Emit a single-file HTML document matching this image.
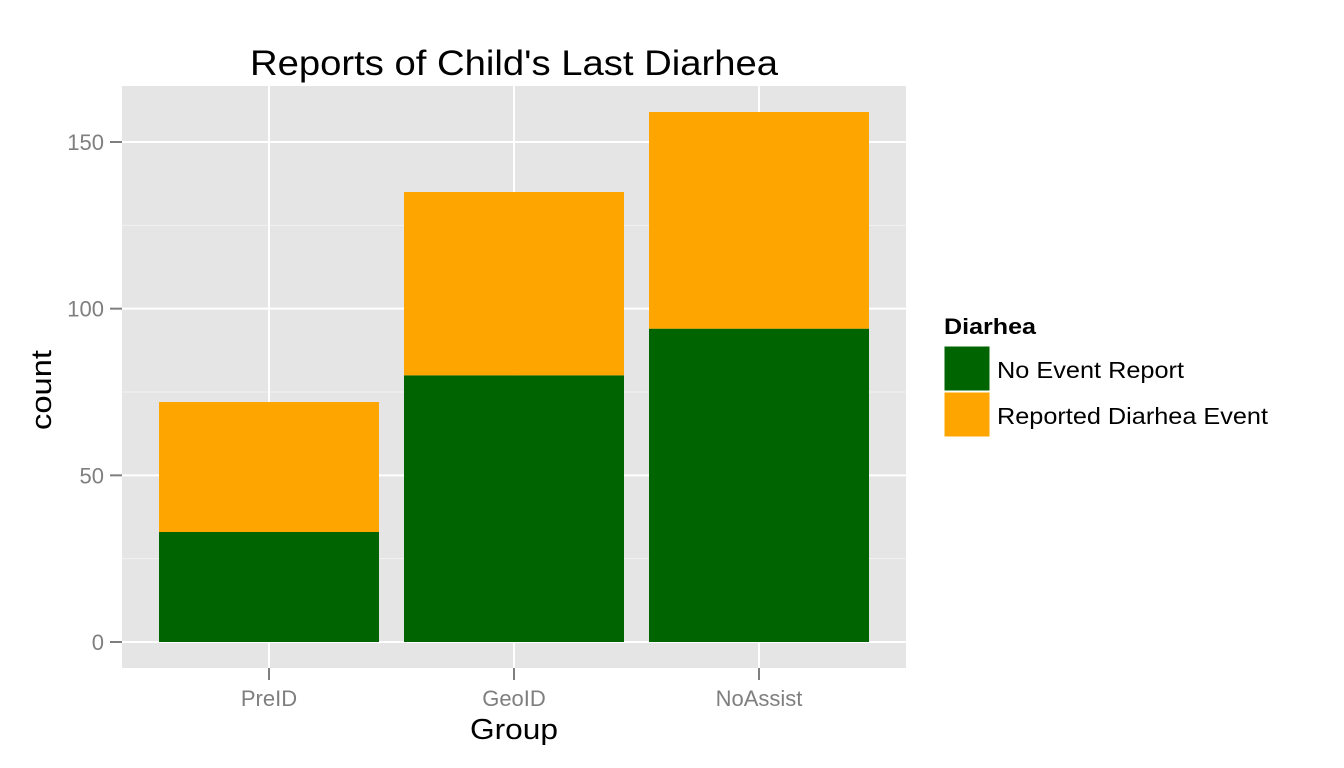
<!DOCTYPE html>
<html><head><meta charset="utf-8"><style>body{margin:0;background:#fff}svg{display:block;font-family:"Liberation Sans",Arial,sans-serif}</style></head>
<body>
<svg id="chart" width="1344" height="768" viewBox="0 0 1344 768">
<rect x="0" y="0" width="1344" height="768" fill="#fff"/>
<rect x="122" y="86" width="784" height="582" fill="#e5e5e5"/>
<g id="grid"></g><g id="bars"></g><g id="axes"></g>
<text x="514" y="75" font-size="35" text-anchor="middle" fill="#000" textLength="528" lengthAdjust="spacingAndGlyphs">Reports of Child's Last Diarhea</text>
<text x="514" y="739" font-size="29" text-anchor="middle" fill="#000" textLength="88" lengthAdjust="spacingAndGlyphs">Group</text>
<text transform="translate(51,390) rotate(-90)" font-size="29" text-anchor="middle" fill="#000" textLength="80" lengthAdjust="spacingAndGlyphs">count</text>
<g>
<text x="944" y="334" font-size="22" font-weight="bold" textLength="92" lengthAdjust="spacingAndGlyphs">Diarhea</text>
<rect x="944" y="346" width="46" height="45" fill="#006400" stroke="#fff" stroke-width="1"/>
<text x="997" y="378" font-size="23" textLength="187" lengthAdjust="spacingAndGlyphs">No Event Report</text>
<rect x="944" y="392" width="46" height="45" fill="#ffa500" stroke="#fff" stroke-width="1"/>
<text x="997" y="424" font-size="23" textLength="271" lengthAdjust="spacingAndGlyphs">Reported Diarhea Event</text>
</g>
</svg>
<script>
const categories=["PreID","GeoID","NoAssist"];
const noEvent=[33,80,94];
const reported=[39,55,65];
const yTicks=[0,50,100,150];
const yMinor=[25,75,125];
const NS="http://www.w3.org/2000/svg";
const y=v=>642-v*(500/150);
const x=i=>269+i*245;
const bw=220;
function mk(tag,attrs,parent){const e=document.createElementNS(NS,tag);for(const k in attrs)e.setAttribute(k,attrs[k]);parent.appendChild(e);return e;}
const grid=document.getElementById('grid'),bars=document.getElementById('bars'),axes=document.getElementById('axes');
yMinor.forEach(v=>{const l=mk('line',{x1:122,x2:906,y1:y(v),y2:y(v),stroke:'#f2f2f2','stroke-width':1},grid);

});
yTicks.forEach(v=>{const l=mk('line',{x1:122,x2:906,y1:y(v),y2:y(v),stroke:'#fff','stroke-width':2},grid);


const t=mk('line',{x1:110,x2:122,y1:y(v),y2:y(v),stroke:'#7f7f7f','stroke-width':2},axes);


const tx=mk('text',{x:104,y:y(v)+8,'font-size':22,'text-anchor':'end',fill:'#7f7f7f'},axes);tx.textContent=v;

});
categories.forEach((c,i)=>{const l=mk('line',{x1:x(i),x2:x(i),y1:86,y2:668,stroke:'#fff','stroke-width':2},grid);


const g=mk('rect',{x:x(i)-bw/2,y:y(noEvent[i]),width:bw,height:y(0)-y(noEvent[i]),fill:'#006400'},bars);


const o=mk('rect',{x:x(i)-bw/2,y:y(noEvent[i]+reported[i]),width:bw,height:y(noEvent[i])-y(noEvent[i]+reported[i]),fill:'#ffa500'},bars);


const t=mk('line',{x1:x(i),x2:x(i),y1:668,y2:680,stroke:'#7f7f7f','stroke-width':2},axes);


const tx=mk('text',{x:x(i),y:706,'font-size':22,'text-anchor':'middle',fill:'#7f7f7f'},axes);tx.textContent=c;

});
</script>
</body></html>
